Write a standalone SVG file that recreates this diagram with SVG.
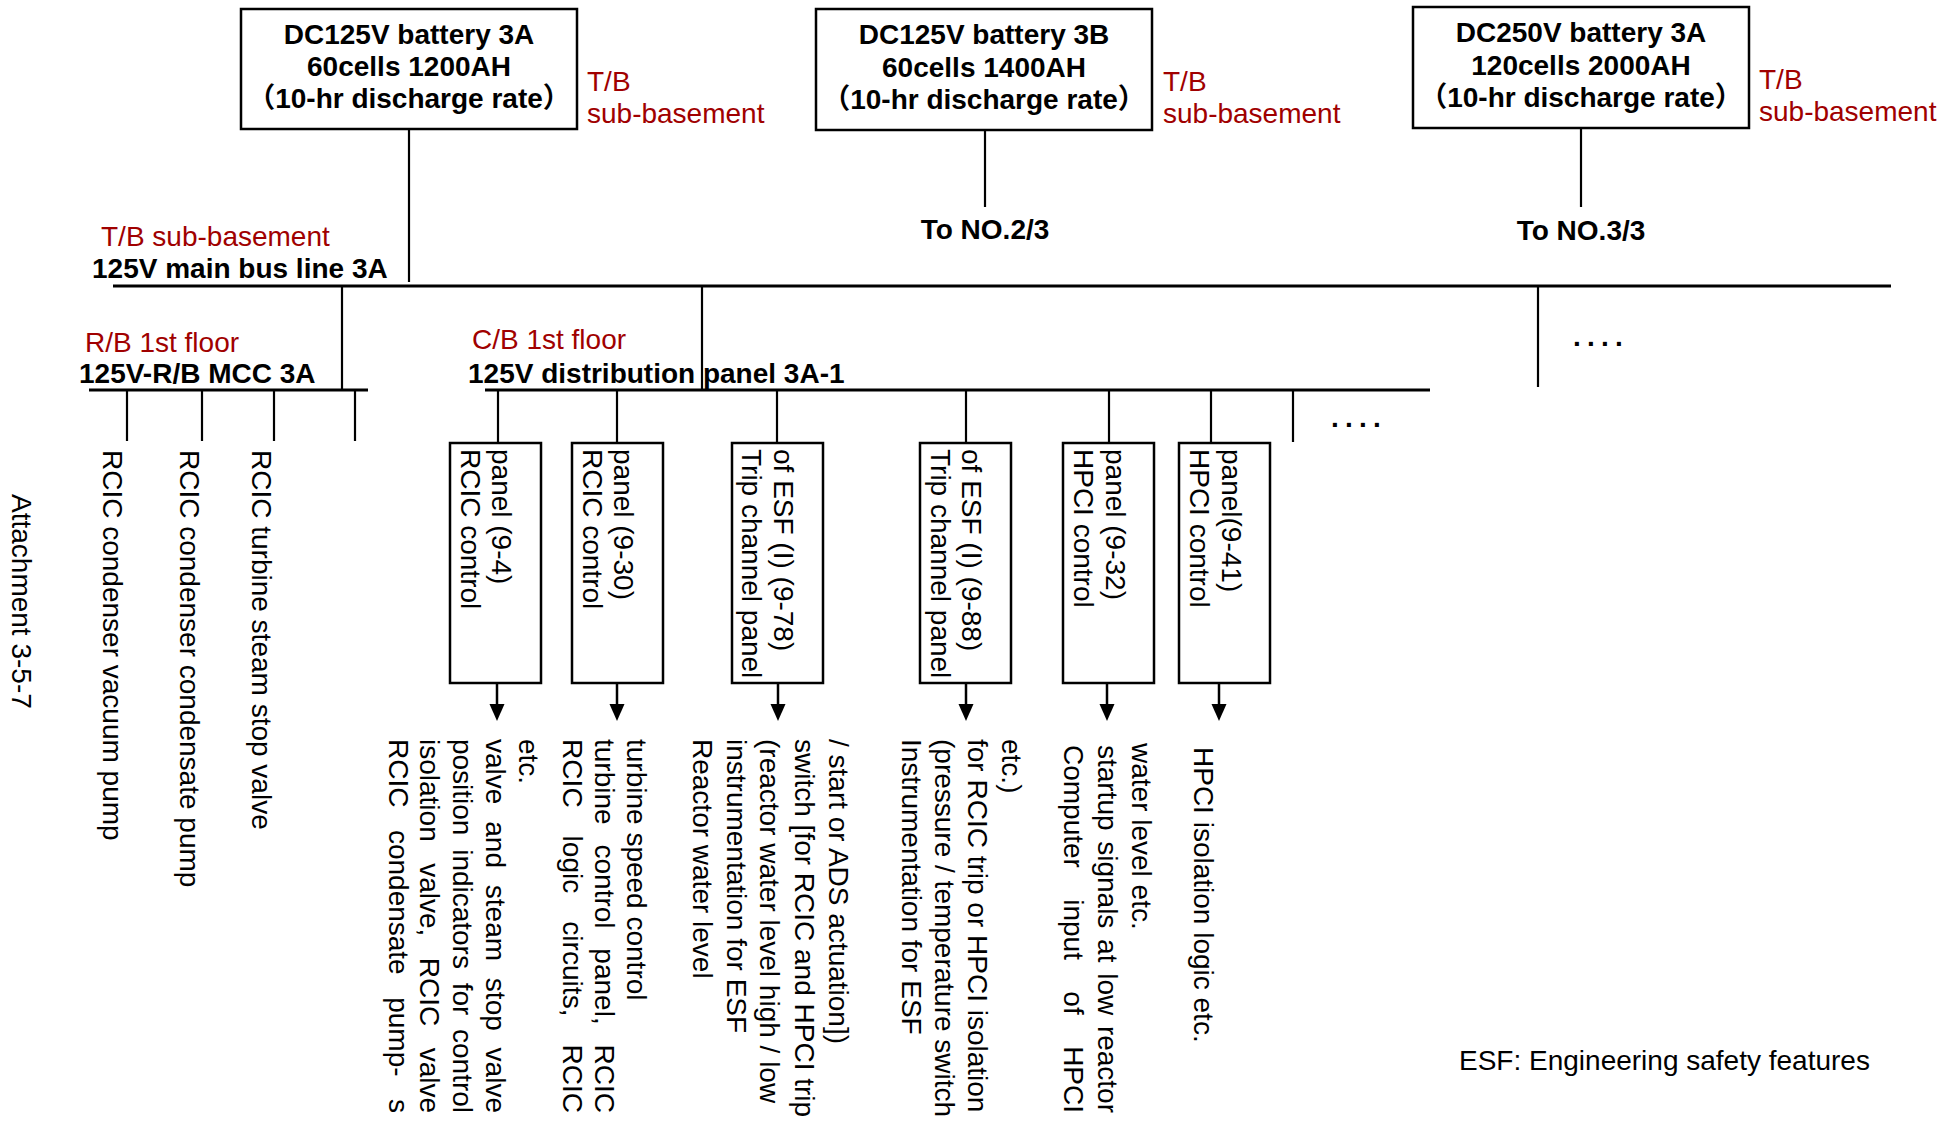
<svg xmlns="http://www.w3.org/2000/svg" width="1959" height="1121" viewBox="0 0 1959 1121">
<style>
text{font-family:"Liberation Sans",Arial,sans-serif;font-size:28px;fill:#000}
.b{font-weight:bold}
.c{text-anchor:middle}
.red{fill:#A00000}
.cj{font-family:"Liberation Sans","Noto Sans CJK SC",sans-serif}
.box{fill:#fff;stroke:#000;stroke-width:2.5}
.ln{stroke:#000;stroke-width:2.2;fill:none}
.bus{stroke:#000;stroke-width:2.8;fill:none}
.arr{stroke:#000;stroke-width:2.5;fill:none;marker-end:url(#ah)}
.dots{font-weight:bold;letter-spacing:6.2px}
</style>
<defs>
<marker id="ah" markerUnits="userSpaceOnUse" markerWidth="17" markerHeight="16" refX="8" refY="8" orient="auto">
<path d="M0,0.5 L17,8 L0,15.5 z" fill="#000"/>
</marker>
</defs>
<rect width="1959" height="1121" fill="#fff"/>

<g id="connectors">
<line class="ln" x1="409" y1="129" x2="409" y2="282"/>
<line class="ln" x1="985" y1="130" x2="985" y2="207"/>
<line class="ln" x1="1581" y1="128" x2="1581" y2="207"/>
<line class="bus" x1="113" y1="286" x2="1891" y2="286"/>
<line class="ln" x1="342" y1="286" x2="342" y2="390"/>
<line class="ln" x1="702" y1="286" x2="702" y2="390"/>
<line class="ln" x1="1538" y1="286" x2="1538" y2="387"/>
<line class="bus" x1="89" y1="390" x2="368" y2="390"/>
<line class="ln" x1="127" y1="390" x2="127" y2="441"/>
<line class="ln" x1="202" y1="390" x2="202" y2="441"/>
<line class="ln" x1="274" y1="390" x2="274" y2="441"/>
<line class="ln" x1="355" y1="390" x2="355" y2="441"/>
<line class="bus" x1="485" y1="390" x2="1430" y2="390"/>
<line class="ln" x1="498" y1="390" x2="498" y2="443"/>
<line class="ln" x1="617" y1="390" x2="617" y2="443"/>
<line class="ln" x1="777" y1="390" x2="777" y2="443"/>
<line class="ln" x1="966" y1="390" x2="966" y2="443"/>
<line class="ln" x1="1109" y1="390" x2="1109" y2="443"/>
<line class="ln" x1="1211" y1="390" x2="1211" y2="443"/>
<line class="ln" x1="1293" y1="390" x2="1293" y2="442"/>
<line class="arr" x1="497" y1="683" x2="497" y2="712"/>
<line class="arr" x1="617" y1="683" x2="617" y2="712"/>
<line class="arr" x1="778" y1="683" x2="778" y2="712"/>
<line class="arr" x1="966" y1="683" x2="966" y2="712"/>
<line class="arr" x1="1107" y1="683" x2="1107" y2="712"/>
<line class="arr" x1="1219" y1="683" x2="1219" y2="712"/>
</g>

<g id="battery-125v-3a">
<rect class="box" x="241" y="9" width="336" height="120"/>
<text class="b c" x="409" y="44">DC125V battery 3A</text>
<text class="b c" x="409" y="76">60cells 1200AH</text>
<text class="b c cj" x="409" y="108">（10-hr discharge rate）</text>
<text class="red" x="587" y="91">T/B</text>
<text class="red" x="587" y="123">sub-basement</text>
</g>

<g id="battery-125v-3b">
<rect class="box" x="816" y="9" width="336" height="121"/>
<text class="b c" x="984" y="44">DC125V battery 3B</text>
<text class="b c" x="984" y="77">60cells 1400AH</text>
<text class="b c cj" x="984" y="109">（10-hr discharge rate）</text>
<text class="red" x="1163" y="91">T/B</text>
<text class="red" x="1163" y="123">sub-basement</text>
<text class="b c" x="985" y="239">To NO.2/3</text>
</g>

<g id="battery-250v-3a">
<rect class="box" x="1413" y="7" width="336" height="121"/>
<text class="b c" x="1581" y="42">DC250V battery 3A</text>
<text class="b c" x="1581" y="75">120cells 2000AH</text>
<text class="b c cj" x="1581" y="107">（10-hr discharge rate）</text>
<text class="red" x="1759" y="89">T/B</text>
<text class="red" x="1759" y="121">sub-basement</text>
<text class="b c" x="1581" y="240">To NO.3/3</text>
</g>

<g id="main-bus-3a">
<text class="red" x="101" y="246">T/B sub-basement</text>
<text class="b" x="92" y="278">125V main bus line 3A</text>
<text class="dots" x="1573" y="346">....</text>
</g>

<g id="rb-mcc-3a">
<text class="red" x="85" y="352">R/B 1st floor</text>
<text class="b" x="79" y="383">125V-R/B MCC 3A</text>
<text transform="translate(103,450) rotate(90)">RCIC condenser vacuum pump</text>
<text transform="translate(180,450) rotate(90)">RCIC condenser condensate pump</text>
<text transform="translate(252,450) rotate(90)">RCIC turbine steam stop valve</text>
</g>

<g id="dist-panel-3a-1">
<text class="red" x="472" y="349">C/B 1st floor</text>
<text class="b" x="468" y="383">125V distribution panel 3A-1</text>
<text class="dots" x="1331" y="427">....</text>
</g>

<g id="panel-9-4">
<rect class="box" x="450" y="443" width="91" height="240"/>
<text transform="translate(492,449) rotate(90)">panel (9-4)</text>
<text transform="translate(461,449) rotate(90)">RCIC control</text>
<text transform="translate(519,739) rotate(90)">etc.</text>
<text transform="translate(486,739) rotate(90)" word-spacing="9" textLength="374" lengthAdjust="spacing">valve and steam stop valve</text>
<text transform="translate(453,739) rotate(90)" word-spacing="6" textLength="374" lengthAdjust="spacing">position indicators for control</text>
<text transform="translate(420,739) rotate(90)" word-spacing="13.7" textLength="374" lengthAdjust="spacing">isolation valve, RCIC valve</text>
<text transform="translate(389,739) rotate(90)" word-spacing="14.7" textLength="374" lengthAdjust="spacing">RCIC condensate pump- s</text>
</g>

<g id="panel-9-30">
<rect class="box" x="572" y="443" width="91" height="240"/>
<text transform="translate(614,449) rotate(90)">panel (9-30)</text>
<text transform="translate(583,449) rotate(90)">RCIC control</text>
<text transform="translate(627,739) rotate(90)">turbine speed control</text>
<text transform="translate(595,739) rotate(90)" word-spacing="12" textLength="374" lengthAdjust="spacing">turbine control panel, RCIC</text>
<text transform="translate(563,739) rotate(90)" word-spacing="20" textLength="374" lengthAdjust="spacing">RCIC logic circuits, RCIC</text>
</g>

<g id="panel-9-78">
<rect class="box" x="732" y="443" width="91" height="240"/>
<text transform="translate(774,449) rotate(90)">of ESF (I) (9-78)</text>
<text transform="translate(742,449) rotate(90)">Trip channel panel</text>
<text transform="translate(829,739) rotate(90)">/ start or ADS actuation])</text>
<text transform="translate(795,739) rotate(90)">switch [for RCIC and HPCI trip</text>
<text transform="translate(760,739) rotate(90)">(reactor water level high / low</text>
<text transform="translate(727,739) rotate(90)">instrumentation for ESF</text>
<text transform="translate(693,739) rotate(90)">Reactor water level</text>
</g>

<g id="panel-9-88">
<rect class="box" x="920" y="443" width="91" height="240"/>
<text transform="translate(962,449) rotate(90)">of ESF (I) (9-88)</text>
<text transform="translate(931,449) rotate(90)">Trip channel panel</text>
<text transform="translate(1002,739) rotate(90)">etc.)</text>
<text transform="translate(968,739) rotate(90)">for RCIC trip or HPCI isolation</text>
<text transform="translate(935,739) rotate(90)">(pressure / temperature switch</text>
<text transform="translate(902,739) rotate(90)">Instrumentation for ESF</text>
</g>

<g id="panel-9-32">
<rect class="box" x="1063" y="443" width="91" height="240"/>
<text transform="translate(1106,449) rotate(90)">panel (9-32)</text>
<text transform="translate(1074,449) rotate(90)">HPCI control</text>
<text transform="translate(1132,743) rotate(90)">water level etc.</text>
<text transform="translate(1098,745) rotate(90)" word-spacing="3" textLength="368" lengthAdjust="spacing">startup signals at low reactor</text>
<text transform="translate(1064,745) rotate(90)" word-spacing="23.7" textLength="368" lengthAdjust="spacing">Computer input of HPCI</text>
</g>

<g id="panel-9-41">
<rect class="box" x="1179" y="443" width="91" height="240"/>
<text transform="translate(1222,449) rotate(90)">panel(9-41)</text>
<text transform="translate(1190,449) rotate(90)">HPCI control</text>
<text transform="translate(1194,747) rotate(90)">HPCI isolation logic etc.</text>
</g>

<g id="notes">
<text transform="translate(12,494) rotate(90)">Attachment 3-5-7</text>
<text x="1459" y="1070">ESF: Engineering safety features</text>
</g>
</svg>
